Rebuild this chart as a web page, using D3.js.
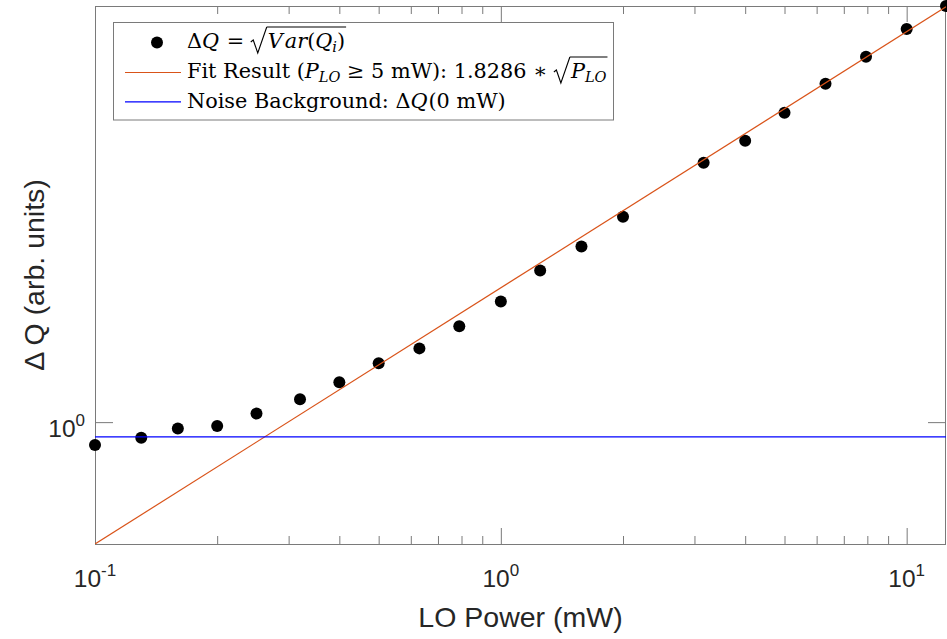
<!DOCTYPE html>
<html>
<head>
<meta charset="utf-8">
<script src="https://cdn.jsdelivr.net/npm/d3@7"></script>
<style>
  html, body { margin: 0; padding: 0; background: #fff; }
  svg { display: block; }
</style>
</head>
<body>
<svg id="chart" width="947" height="639"></svg>
<script>
// Measured quadrature spread versus local-oscillator power
const powerMW = [0.1, 0.13, 0.16, 0.2, 0.25, 0.32, 0.4, 0.5, 0.63, 0.79, 1,
                 1.25, 1.58, 2, 3.16, 4, 5, 6.31, 7.94, 10, 12.5];
const deltaQ  = [0.902, 0.932, 0.972, 0.983, 1.039, 1.108, 1.196, 1.303, 1.393, 1.538, 1.720,
                 1.977, 2.202, 2.517, 3.209, 3.543, 4.017, 4.576, 5.164, 5.855, 6.49];

// Shot-noise fit (P_LO >= 5 mW) and the dark-noise level at 0 mW
const fitCoefficient = 1.8286;
const noiseBackground = 0.936;

// Axis ticks (labels are written as 10^exponent)
const xMajorTicks = [0.1, 1, 10];
const xTickExponents = ["-1", "0", "1"];
const xMinorTicks = [0.2, 0.3, 0.4, 0.5, 0.6, 0.7, 0.8, 0.9, 2, 3, 4, 5, 6, 7, 8, 9];
const yMajorTicks = [1];
const yTickExponents = ["0"];

const xLabel = "LO Power (mW)";
const yLabel = "\u0394 Q (arb. units)";

const svg = d3.select("#chart");
const plot = { left: 95, right: 946, top: 6, bottom: 544 };
const axisColor = "#7a7a7a";
const textColor = "#262626";
const sansFont = "'Liberation Sans', Arial, Helvetica, sans-serif";
const serifFont = "'DejaVu Serif', 'Liberation Serif', serif";

const fit = p => fitCoefficient * Math.sqrt(p);

const xExtent = d3.extent(powerMW);
const x = d3.scaleLog().domain(xExtent).range([plot.left, plot.right]);
const yLow = Math.min(d3.min(deltaQ), fit(xExtent[0]));
const yHigh = Math.max(d3.max(deltaQ), fit(xExtent[1]));
const y = d3.scaleLog().domain([yLow, yHigh]).range([plot.bottom, plot.top]);

svg.append("rect").attr("width", 947).attr("height", 639).attr("fill", "#fff");

svg.append("defs").append("clipPath").attr("id", "plot-clip")
  .append("rect")
  .attr("x", plot.left).attr("y", plot.top)
  .attr("width", plot.right - plot.left).attr("height", plot.bottom - plot.top);

// ---- tick marks on all four sides, pointing inward ----
function styleAxis(g) {
  g.select(".domain").remove();
  g.selectAll(".tick line").attr("stroke", axisColor).attr("stroke-width", 1);
  g.selectAll(".tick text").remove();
}
const fmtNone = () => "";
svg.append("g").attr("transform", `translate(0,${plot.bottom})`)
  .call(d3.axisBottom(x).tickValues(xMajorTicks).tickSize(-16).tickFormat(fmtNone)).call(styleAxis);
svg.append("g").attr("transform", `translate(0,${plot.bottom})`)
  .call(d3.axisBottom(x).tickValues(xMinorTicks).tickSize(-8).tickFormat(fmtNone)).call(styleAxis);
svg.append("g").attr("transform", `translate(0,${plot.top})`)
  .call(d3.axisTop(x).tickValues(xMajorTicks).tickSize(-16).tickFormat(fmtNone)).call(styleAxis);
svg.append("g").attr("transform", `translate(0,${plot.top})`)
  .call(d3.axisTop(x).tickValues(xMinorTicks).tickSize(-8).tickFormat(fmtNone)).call(styleAxis);
svg.append("g").attr("transform", `translate(${plot.left},0)`)
  .call(d3.axisLeft(y).tickValues(yMajorTicks).tickSize(-18).tickFormat(fmtNone)).call(styleAxis);
svg.append("g").attr("transform", `translate(${plot.right},0)`)
  .call(d3.axisRight(y).tickValues(yMajorTicks).tickSize(-18).tickFormat(fmtNone)).call(styleAxis);

// axes box
svg.append("rect")
  .attr("x", plot.left + 0.5).attr("y", plot.top + 0.5)
  .attr("width", plot.right - plot.left - 1).attr("height", plot.bottom - plot.top)
  .attr("fill", "none").attr("stroke", axisColor).attr("stroke-width", 1);

// ---- tick labels 10^n ----
function powerLabel(sel, exp) {
  sel.append("tspan").text("10");
  sel.append("tspan").attr("font-size", 17).attr("dy", -11).text(exp);
}
xMajorTicks.forEach((v, i) => {
  svg.append("text")
    .attr("x", x(v)).attr("y", plot.bottom + 42.5)
    .attr("text-anchor", "middle")
    .attr("font-family", sansFont).attr("font-size", 24.5).attr("fill", textColor)
    .call(powerLabel, xTickExponents[i]);
});
yMajorTicks.forEach((v, i) => {
  svg.append("text")
    .attr("x", plot.left - 10).attr("y", y(v) + 15)
    .attr("text-anchor", "end")
    .attr("font-family", sansFont).attr("font-size", 24.5).attr("fill", textColor)
    .call(powerLabel, yTickExponents[i]);
});

// ---- axis titles ----
svg.append("text")
  .attr("x", (plot.left + plot.right) / 2).attr("y", 627)
  .attr("text-anchor", "middle")
  .attr("font-family", sansFont).attr("font-size", 28.5).attr("fill", textColor)
  .text(xLabel);
svg.append("text")
  .attr("transform", `translate(44,${(plot.top + plot.bottom) / 2}) rotate(-90)`)
  .attr("text-anchor", "middle")
  .attr("font-family", sansFont).attr("font-size", 28.5).attr("fill", textColor)
  .text(yLabel);

// ---- data ----
const data = powerMW.map((p, i) => ({ p, q: deltaQ[i] }));
svg.append("g").selectAll("circle").data(data).join("circle")
  .attr("cx", d => x(d.p)).attr("cy", d => y(d.q)).attr("r", 6)
  .attr("fill", "#000");

const lines = svg.append("g").attr("clip-path", "url(#plot-clip)");
lines.append("path")
  .datum(xExtent)
  .attr("d", d3.line().x(p => x(p)).y(p => y(fit(p))))
  .attr("fill", "none").attr("stroke", "#D95319").attr("stroke-width", 1.2);
lines.append("path")
  .datum(xExtent)
  .attr("d", d3.line().x(p => x(p)).y(() => y(noiseBackground)))
  .attr("fill", "none").attr("stroke", "#0000FF").attr("stroke-width", 1.3);

// ---- legend ----
const legend = svg.append("g");
legend.append("rect")
  .attr("x", 113.5).attr("y", 22.5).attr("width", 500).attr("height", 97.5)
  .attr("fill", "#fff").attr("stroke", axisColor).attr("stroke-width", 1);

legend.append("circle").attr("cx", 157).attr("cy", 42.5).attr("r", 6).attr("fill", "#000");
legend.append("line").attr("x1", 125).attr("x2", 181).attr("y1", 72.5).attr("y2", 72.5)
  .attr("stroke", "#D95319").attr("stroke-width", 1.2);
legend.append("line").attr("x1", 125).attr("x2", 181).attr("y1", 101.8).attr("y2", 101.8)
  .attr("stroke", "#0000FF").attr("stroke-width", 1.3);

const legendFontSize = 20.8;
// Lays out a row of math-style text pieces left to right.
// rad:"open"/"close" draws a radical sign with an overbar across the enclosed pieces.
function mathRow(g, x0, baseline, pieces) {
  let cx = x0;
  let radStart = null;
  pieces.forEach(pc => {
    if (pc.rad === "open") {
      g.append("path")
        .attr("d", `M${cx},${baseline - 6} L${cx + 2.5},${baseline - 8} L${cx + 7},${baseline + 5} L${cx + 16},${baseline - 21}`)
        .attr("fill", "none").attr("stroke", "#000").attr("stroke-width", 1.1)
        .attr("stroke-linejoin", "miter");
      radStart = cx + 16;
      cx += 17;
      return;
    }
    if (pc.rad === "close") {
      g.append("line")
        .attr("x1", radStart).attr("x2", cx + 1)
        .attr("y1", baseline - 21).attr("y2", baseline - 21)
        .attr("stroke", "#000").attr("stroke-width", 1.1);
      cx += 2;
      return;
    }
    const size = pc.sub ? legendFontSize * 0.7 : legendFontSize;
    const t = g.append("text")
      .attr("x", cx).attr("y", baseline + (pc.sub ? 4 : 0))
      .attr("font-family", serifFont).attr("font-size", size)
      .attr("font-style", pc.it ? "italic" : "normal")
      .attr("fill", "#000")
      .text(pc.t.replace(/ /g, "\u00A0"));
    cx += t.node().getComputedTextLength() + (pc.gap || 0);
  });
  return cx;
}

mathRow(legend, 187, 48, [
  { t: "\u0394" }, { t: "Q", it: true, gap: 1 }, { t: " = " }, { rad: "open" },
  { t: "V", it: true, gap: 2 }, { t: "ar", it: true }, { t: "(" }, { t: "Q", it: true },
  { t: "i", it: true, sub: true }, { t: ")" }, { rad: "close" }
]);
mathRow(legend, 187, 78, [
  { t: "Fit Result (" }, { t: "P", it: true }, { t: "LO", it: true, sub: true },
  { t: " \u2265 5 mW): 1.8286 \u2217 " }, { rad: "open" },
  { t: "P", it: true }, { t: "LO", it: true, sub: true }, { rad: "close" }
]);
mathRow(legend, 187, 107.5, [
  { t: "Noise Background: \u0394" }, { t: "Q", it: true, gap: 1 }, { t: "(0 mW)" }
]);
</script>
</body>
</html>
